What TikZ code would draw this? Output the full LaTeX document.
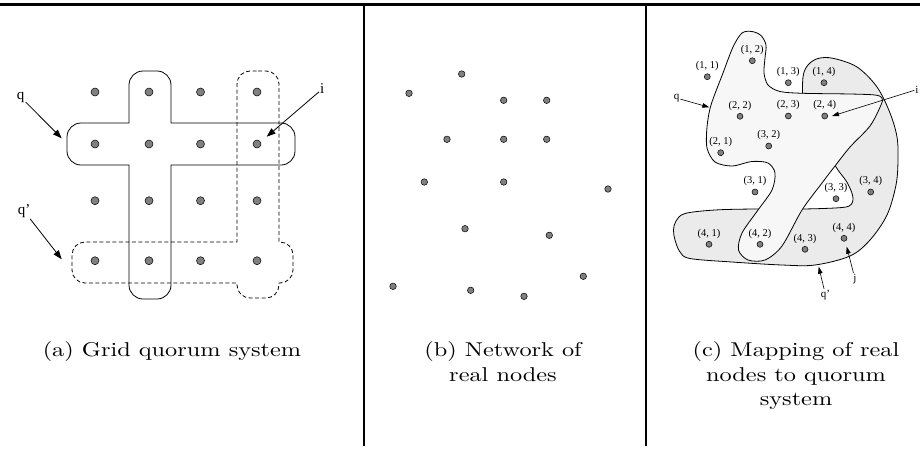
\documentclass[tikz,border=0pt]{standalone}
\usepackage{fontspec}
\newfontfamily\figfont{Liberation Serif}
\usetikzlibrary{arrows.meta,positioning}

\begin{document}
\begin{tikzpicture}[x=1pt,y=-1pt,
    gridpt/.style={circle,draw,line width=0.5pt,fill=gray,inner sep=0pt,minimum size=8pt},
    netpt/.style={circle,draw,line width=0.5pt,fill=gray,inner sep=0pt,minimum size=6.5pt},
    mappt/.style={circle,draw,line width=0.5pt,fill=gray,inner sep=0pt,minimum size=6pt},
    maplbl/.style={font=\figfont\fontsize{10.5}{11}\selectfont,inner sep=0pt},
    bigarr/.style={line width=0.8pt,-{Triangle[length=9pt,width=6.5pt]}},
    smallarr/.style={line width=0.6pt,-{Triangle[length=7pt,width=4.5pt]}},
    caption/.style={font=\fontsize{10}{12.25}\selectfont,xscale=2.43,yscale=2,
      align=center,anchor=north,inner sep=0pt}]
  \useasboundingbox (0,0) rectangle (920,453);

  % frame
  \draw[line width=3pt] (0,4.5) -- (920,4.5);
  \draw[line width=2.2pt] (363.8,4) -- (363.8,445.7);
  \draw[line width=2.2pt] (646,4) -- (646,445.7);

  % (a) grid quorum system
  \draw[line width=0.8pt] (150,71) -- (157,71) arc[start angle=90,end angle=0,radius=14pt]
    -- (171,123) -- (281,123) arc[start angle=90,end angle=0,radius=14pt]
    -- (295,151) arc[start angle=0,end angle=-90,radius=14pt]
    -- (171,165) -- (171,285) arc[start angle=0,end angle=-90,radius=14pt]
    -- (143,299) arc[start angle=-90,end angle=-180,radius=14pt]
    -- (129,165) -- (81,165) arc[start angle=270,end angle=180,radius=14pt]
    -- (67,137) arc[start angle=180,end angle=90,radius=14pt]
    -- (129,123) -- (129,85) arc[start angle=180,end angle=90,radius=14pt] -- cycle;
  \draw[line width=0.8pt,dash pattern=on 4pt off 2.5pt] (258,71) -- (266,71)
    arc[start angle=90,end angle=0,radius=13pt]
    -- (279,242) -- (280,242) arc[start angle=90,end angle=0,radius=13pt]
    -- (293,270) arc[start angle=0,end angle=-90,radius=13pt]
    -- (279,283) -- (279,285) arc[start angle=0,end angle=-90,radius=13pt]
    -- (250,298) arc[start angle=-90,end angle=-180,radius=13pt]
    -- (237,283) -- (85,283) arc[start angle=270,end angle=180,radius=13pt]
    -- (72,255) arc[start angle=180,end angle=90,radius=13pt]
    -- (237,242) -- (237,84) arc[start angle=180,end angle=90,radius=13pt] -- cycle;
  \foreach \c/\x in {1/95,2/149,3/200.5,4/257}
    \foreach \r/\y in {1/92,2/144,3/200.7,4/260.7}
      \node[gridpt] (a\r\c) at (\x,\y) {};
  \node[font=\figfont\fontsize{15}{15}\selectfont,inner sep=1pt] (qa) at (20.7,97) {q};
  \node[font=\figfont\fontsize{15}{15}\selectfont,inner sep=1pt] (qqa) at (24,211) {q’};
  \node[font=\figfont\fontsize{15}{15}\selectfont,inner sep=1pt] (ia) at (322.3,89) {i};
  \coordinate (qatip) at (61.7,138.3);
  \coordinate (qqatip) at (61.7,259.3);
  \coordinate (iatip) at (266.7,136.7);
  \draw[bigarr] (qa) -- (qatip);
  \draw[bigarr] (qqa) -- (qqatip);
  \draw[bigarr] (ia) -- (iatip);
  \node[caption] (capa) at (172,341.5) {(a) Grid quorum system};

  % (b) network of real nodes
  \foreach \x/\y [count=\n] in {461.7/74,409/93.3,503.7/100.3,546.7/100.3,447/139.3,
      503.7/139.3,546.7/139.3,424.3/182,503.7/182,608/189,465/228.7,549.3/235.3,
      583.3/276.3,393/286.3,470.7/290.3,524/296.3}
    \node[netpt] (b\n) at (\x,\y) {};
  \node[caption] (capb) at (503,341.5) {(b) Network of\\real nodes};

  % (c) mapping of real nodes to quorum system
  \draw[line width=0.8pt,fill=gray!16] plot[smooth cycle,tension=0.55] coordinates {
    (803,105) (803,77) (808,65) (818,58.5) (833,58.3) (857,67) (877,87) (890,113)
    (897,137) (898,160) (896,185) (887,215) (870,240) (850,256) (815,265) (782,265)
    (732,262) (690,258.5) (680,252) (675,240) (673.5,230) (676,221) (685,213.5)
    (715,210) (755,209) (803,209) (842,207.5) (851.5,204) (852.5,195) (846.5,181.5)
    (836,167) (822,140) (808,118)};
  \draw[line width=0.8pt,fill=gray!6] plot[smooth cycle,tension=0.5] coordinates {
    (742,33) (752,31.5) (761,35.5) (766,45) (765,58) (764,73) (768,85) (780,91.5)
    (803,93.3) (850,94) (875,95) (882,98) (881,105) (870,126) (850,147) (835,166)
    (822,183) (802,210) (782,246) (765,260) (748,260) (738.5,250) (742,233) (758,210)
    (772,190) (775,173) (768,163) (752,161.5) (732,166) (715,162) (707,148) (707,127)
    (711,105) (723,73) (733,47)};
  \foreach \r/\c/\x/\y in {1/1/707.3/76.7,1/2/752.3/60.7,1/3/788.3/82.7,1/4/824/82.7,
      2/1/720.7/152.7,2/2/740/116.3,2/3/788.3/116,2/4/824.7/116,
      3/1/755/192,3/2/768.7/146,3/3/836/198.7,3/4/870.7/192,
      4/1/709/244.3,4/2/760/244.3,4/3/805/249.3,4/4/844/238.3}
  {
    \node[mappt] (c\r\c) at (\x,\y) {};
    \node[maplbl,above=2.5pt of c\r\c] (l\r\c) {(\r, \c)};
  }
  \node[font=\figfont\fontsize{11}{11}\selectfont,inner sep=1pt] (qc) at (676.5,98) {q};
  \node[font=\figfont\fontsize{11}{11}\selectfont,inner sep=1pt] (ic) at (917,89.5) {i};
  \node[font=\figfont\fontsize{11}{11}\selectfont,inner sep=1pt] (jc) at (855,279) {j};
  \node[font=\figfont\fontsize{11}{11}\selectfont,inner sep=1pt] (qqc) at (825.5,295) {q’};
  \coordinate (qctip) at (709.3,107.3);
  \coordinate (ictip) at (832,116);
  \coordinate (jctip) at (846.7,246.7);
  \coordinate (qqctip) at (818.7,266.7);
  \draw[smallarr] (qc) -- (qctip);
  \draw[smallarr] (ic) -- (ictip);
  \draw[smallarr] (jc) -- (jctip);
  \draw[smallarr] (qqc) -- (qqctip);
  \node[caption] (capc) at (796,341.5) {(c) Mapping of real\\nodes to quorum\\system};
\end{tikzpicture}
\end{document}
